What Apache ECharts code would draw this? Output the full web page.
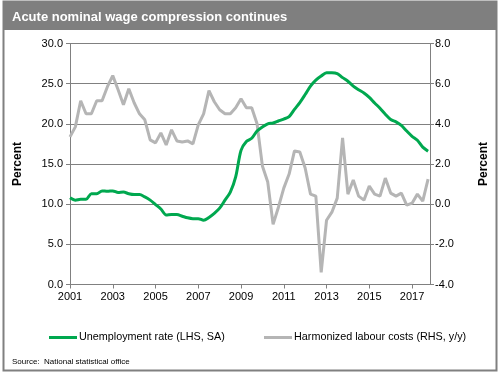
<!DOCTYPE html>
<html>
<head>
<meta charset="utf-8">
<title>Acute nominal wage compression continues</title>
<script src="https://cdn.jsdelivr.net/npm/echarts@6/dist/echarts.min.js"></script>
<style>
  html, body { margin: 0; padding: 0; background: #ffffff; }
  #chart { width: 503px; height: 376px; }
</style>
</head>
<body>
<div id="chart"></div>
<script>
// quarterly observations, first one is 2001 Q1
const startYear = 2001;

// Unemployment rate (LHS, SA), percent
const unemployment = [
  10.8, 10.5, 10.6, 10.6, 11.3, 11.3, 11.65, 11.6, 11.65, 11.45,
  11.5, 11.3, 11.2, 11.2, 10.9, 10.5, 9.95, 9.4, 8.65, 8.7,
  8.7, 8.5, 8.3, 8.2, 8.2, 8.0, 8.35, 8.85, 9.5, 10.5,
  11.5, 13.4, 16.7, 17.8, 18.2, 19.1, 19.6, 20.0, 20.1, 20.35,
  20.6, 20.9, 21.8, 22.65, 23.65, 24.7, 25.45, 25.95, 26.35, 26.35,
  26.25, 25.75, 25.3, 24.7, 24.25, 23.85, 23.3, 22.6, 21.95, 21.2,
  20.55, 20.25, 19.8, 19.1, 18.45, 17.95, 17.1, 16.6
];

// Harmonized labour costs (RHS, y/y), percent
const labourCosts = [
  3.35, 3.85, 5.15, 4.5, 4.5, 5.15, 5.15, 5.85, 6.4, 5.7,
  4.95, 5.75, 5.05, 4.5, 4.2, 3.2, 3.05, 3.55, 2.95, 3.7,
  3.15, 3.1, 3.15, 3.0, 3.95, 4.5, 5.65, 5.1, 4.7, 4.5,
  4.5, 4.8, 5.25, 4.8, 4.8, 4.0, 1.9, 1.1, -1.0, -0.15,
  0.8, 1.5, 2.65, 2.6, 1.8, 0.5, 0.4, -3.4, -0.8, -0.4,
  0.3, 3.3, 0.5, 1.2, 0.4, 0.2, 0.9, 0.5, 0.4, 1.3,
  0.55, 0.4, 0.55, -0.05, 0.05, 0.5, 0.15, 1.25
];

const leftTicks = { min: 0, max: 30, step: 5 };
const rightTicks = { min: -4, max: 8, step: 2 };

const seriesNames = ['Unemployment rate (LHS, SA)', 'Harmonized labour costs (RHS, y/y)'];

const greenColor = '#00a84f';
const greyColor = '#b5b5b5';
const axisColor = '#808080';
const fontFamily = '"Liberation Sans", Arial, sans-serif';

function toPoints(values) {
  return values.map((v, i) => [startYear + i / 4, v]);
}

const chart = echarts.init(document.getElementById('chart'), null, { renderer: 'canvas' });

const option = {
  animation: false,
  backgroundColor: '#ffffff',
  textStyle: { fontFamily: fontFamily },
  graphic: [
    {
      type: 'rect',
      shape: { x: 3.5, y: 1.5, width: 493, height: 369 },
      style: { fill: 'none', stroke: axisColor, lineWidth: 2 },
      z: 0
    },
    {
      type: 'rect',
      shape: { x: 3, y: 1, width: 494, height: 29 },
      style: { fill: '#7f7f7f' },
      z: 1
    },
    {
      type: 'text',
      left: 12,
      top: 358,
      style: {
        text: 'Source:  National statistical office',
        fill: '#000000',
        font: '8px ' + fontFamily
      }
    }
  ],
  title: {
    text: 'Acute nominal wage compression continues',
    left: 7,
    top: 6,
    textStyle: {
      color: '#ffffff',
      fontSize: 13,
      fontWeight: 'bold',
      fontFamily: fontFamily
    }
  },
  legend: [
    {
      data: [seriesNames[0]],
      left: 44,
      top: 327,
      icon: 'rect',
      itemWidth: 28,
      itemHeight: 3,
      itemGap: 0,
      textStyle: { fontSize: 10.8, color: '#000000', padding: [0, 0, 0, -3] }
    },
    {
      data: [seriesNames[1]],
      left: 259,
      top: 327,
      icon: 'rect',
      itemWidth: 28,
      itemHeight: 3,
      itemGap: 0,
      textStyle: { fontSize: 10.8, color: '#000000', padding: [0, 0, 0, -3] }
    }
  ],
  grid: {
    left: 70,
    right: 73,
    top: 43.5,
    bottom: 91.5,
    containLabel: false
  },
  xAxis: {
    type: 'value',
    min: 2001,
    max: 2017.84,
    interval: 2,
    axisLine: { show: true, onZero: false, lineStyle: { color: axisColor, width: 1 } },
    axisTick: { show: true, length: 4, lineStyle: { color: axisColor } },
    axisLabel: {
      color: '#000000',
      fontSize: 11,
      margin: 7,
      showMaxLabel: false,
      formatter: function(v) { return Number.isInteger(v) ? String(v) : ''; }
    },
    splitLine: { show: false }
  },
  yAxis: [
    {
      type: 'value',
      min: leftTicks.min,
      max: leftTicks.max,
      interval: leftTicks.step,
      position: 'left',
      name: 'Percent',
      nameLocation: 'middle',
      nameRotate: 90,
      nameGap: 46,
      nameTextStyle: { fontWeight: 'bold', fontSize: 12, color: '#000000' },
      axisLine: { show: true, lineStyle: { color: axisColor, width: 1 } },
      axisTick: { show: true, length: 4, lineStyle: { color: axisColor } },
      axisLabel: {
        color: '#000000',
        fontSize: 11,
        margin: 7,
        formatter: function(v) { return v.toFixed(1); }
      },
      splitLine: { show: true, lineStyle: { color: axisColor, width: 1 } }
    },
    {
      type: 'value',
      min: rightTicks.min,
      max: rightTicks.max,
      interval: rightTicks.step,
      position: 'right',
      name: 'Percent',
      nameLocation: 'middle',
      nameRotate: 90,
      nameGap: 48,
      nameTextStyle: { fontWeight: 'bold', fontSize: 12, color: '#000000' },
      axisLine: { show: true, lineStyle: { color: axisColor, width: 1 } },
      axisTick: { show: true, length: 4, lineStyle: { color: axisColor } },
      axisLabel: {
        color: '#000000',
        fontSize: 11,
        margin: 5,
        formatter: function(v) { return v.toFixed(1); }
      },
      splitLine: { show: false }
    }
  ],
  series: [
    {
      name: seriesNames[0],
      type: 'line',
      yAxisIndex: 0,
      data: toPoints(unemployment),
      symbol: 'none',
      smooth: 0.3,
      lineStyle: { color: greenColor, width: 3 },
      itemStyle: { color: greenColor },
      z: 3
    },
    {
      name: seriesNames[1],
      type: 'line',
      yAxisIndex: 1,
      data: toPoints(labourCosts),
      symbol: 'none',
      lineStyle: { color: greyColor, width: 3 },
      itemStyle: { color: greyColor },
      z: 2
    }
  ]
};

chart.setOption(option);

window.addEventListener('resize', function() {
  chart.resize();
});
</script>
</body>
</html>
